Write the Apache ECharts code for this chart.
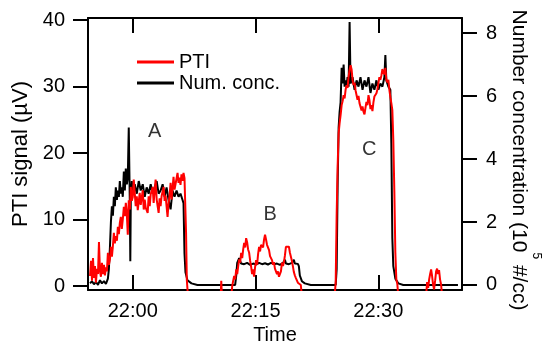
<!DOCTYPE html>
<html><head><meta charset="utf-8">
<script src="https://cdn.jsdelivr.net/npm/echarts@6/dist/echarts.min.js"></script>
<style>html,body{margin:0;padding:0;background:#fff}#c{width:550px;height:360px}</style>
</head><body><div id="c"></div>
<script>
// Time in minutes relative to 22:00
const ptiData = [
 [-5.22,1.5],[-5.10,3.8],[-4.98,0.8],[-4.86,4.2],[-4.74,1.2],[-4.62,3.0],[-4.50,0.5],[-4.37,2.6],[-4.25,1.8],[-4.13,6.6],
 [-4.01,2.2],[-3.89,1.4],[-3.77,3.5],[-3.65,1.8],[-3.52,3.2],[-3.40,1.6],[-3.28,2.8],[-3.16,2.2],[-3.04,5.0],[-2.92,3.2],
 [-2.79,4.0],[-2.67,5.9],[-2.55,4.4],[-2.43,6.0],[-2.31,8.0],[-2.19,6.4],[-2.07,7.5],[-1.94,6.8],[-1.82,8.9],[-1.70,7.8],
 [-1.58,9.5],[-1.46,10.4],[-1.34,8.6],[-1.22,10.0],[-1.09,11.9],[-0.97,10.5],[-0.85,12.5],[-0.73,11.0],[-0.61,7.7],[-0.49,12.9],
 [-0.36,11.5],[-0.24,14.9],[-0.12,12.8],[0,13.4],[0.12,16.0],[0.24,14.0],[0.36,12.0],[0.49,13.5],[0.61,11.4],[0.85,14.0],
 [0.97,12.2],[1.22,14.4],[1.34,11.5],[1.46,13.0],[1.58,11.8],[1.82,11.0],[1.94,13.5],[2.07,12.0],[2.19,13.8],[2.43,14.9],
 [2.55,12.5],[2.79,16.0],[2.92,13.0],[3.16,11.0],[3.28,13.2],[3.40,12.0],[3.52,13.5],[3.77,14.9],[3.89,12.8],[4.01,13.6],
 [4.25,10.4],[4.37,12.5],[4.50,13.6],[4.62,15.5],[4.74,13.0],[4.98,16.4],[5.10,14.5],[5.22,15.3],[5.47,17.0],[5.59,15.5],
 [5.71,16.3],[5.83,15.2],[5.95,16.8],[6.08,15.8],[6.20,17.0],[6.32,16.2],[6.44,16.5],[6.51,8.0],[6.60,1.0],[6.74,-1.5],
 [10.75,-1.5],[10.81,0.8],[10.89,-1.5],
 [12.03,-1.5],[12.15,0.0],[12.27,0.8],[12.39,1.5],[12.51,1.0],[12.64,2.5],[12.76,1.8],[12.88,3.0],[13.00,4.0],[13.12,3.5],
 [13.24,5.0],[13.37,4.2],[13.49,5.5],[13.61,6.5],[13.73,5.8],[13.85,7.2],[13.97,6.6],[14.09,5.5],[14.22,5.0],[14.34,3.8],
 [14.46,2.9],[14.58,1.8],[14.70,2.5],[14.82,1.4],[14.94,2.8],[15.07,3.9],[15.19,3.2],[15.31,4.8],[15.43,5.9],[15.55,5.2],
 [15.67,6.2],[15.80,6.5],[15.92,5.8],[16.04,7.0],[16.16,7.7],[16.28,7.0],[16.40,6.2],[16.52,6.0],[16.65,5.4],[16.77,4.5],
 [16.89,4.8],[17.01,3.9],[17.13,3.2],[17.25,3.6],[17.37,2.6],[17.50,2.4],[17.62,1.8],[17.74,2.2],[17.86,1.4],[17.98,1.2],
 [18.10,2.2],[18.23,3.5],[18.35,3.0],[18.47,3.6],[18.59,4.6],[18.71,5.9],[18.83,6.2],[18.95,5.6],[19.08,5.9],[19.20,5.0],
 [19.32,4.7],[19.44,3.8],[19.56,3.0],[19.68,2.1],[19.80,1.6],[19.93,1.2],[20.05,0.9],[20.17,0.5],[20.41,0.3],[20.53,0.15],[20.66,-1.5],
 [24.66,-1.5],[24.79,0.5],[24.91,10.7],[25.03,18.0],[25.15,23.0],[25.27,24.5],[25.39,25.7],[25.52,27.2],[25.64,27.8],[25.76,28.7],
 [25.88,28.2],[26.00,29.5],[26.12,30.2],[26.24,29.8],[26.37,31.5],[26.49,32.5],[26.61,33.2],[26.73,32.6],[26.85,31.0],[26.97,30.2],
 [27.10,30.6],[27.22,29.4],[27.34,29.2],[27.46,28.0],[27.58,28.6],[27.70,27.5],[27.82,27.2],[27.95,26.4],[28.07,27.0],[28.19,26.2],
 [28.31,25.8],[28.43,26.8],[28.55,27.7],[28.67,27.2],[28.80,28.7],[28.92,27.9],[29.04,26.6],[29.16,27.2],[29.28,26.3],[29.40,27.6],
 [29.52,28.5],[29.65,28.3],[29.77,29.0],[29.89,29.6],[30.01,30.5],[30.13,31.4],[30.25,31.0],[30.38,31.7],[30.50,32.6],[30.62,32.5],
 [30.74,31.8],[30.86,32.8],[30.98,31.0],[31.10,30.6],[31.23,31.0],[31.35,29.5],[31.47,28.4],[31.59,27.5],[31.71,26.5],[31.83,22.0],
 [31.96,14.0],[32.08,5.0],[32.20,1.0],[32.32,0.3],[32.44,-1.5],
 [35.84,-1.5],[35.96,0.6],[36.09,-0.3],[36.21,1.0],[36.33,1.8],[36.45,2.5],[36.57,1.5],[36.69,0.2],[36.81,-0.5],[36.94,0.8],
 [37.06,2.2],[37.18,2.6],[37.30,1.8],[37.42,2.4],[37.54,1.0],[37.67,0.2],[37.79,-1.5],[39.73,-1.5]
];
const concData = [
 [-5.22,0.05],[-4.98,0.12],[-4.74,0.02],[-4.50,0.10],[-4.25,0.0],[-4.01,0.15],[-3.77,0.05],[-3.52,0.12],[-3.28,0.03],[-3.04,0.2],
 [-2.92,0.5],[-2.79,1.2],[-2.67,2.0],[-2.55,2.5],[-2.43,2.2],[-2.31,2.8],[-2.19,2.5],[-2.07,3.1],[-1.94,2.7],[-1.82,3.0],
 [-1.70,2.8],[-1.58,3.3],[-1.46,2.9],[-1.34,3.1],[-1.22,2.8],[-1.09,3.6],[-0.97,3.0],[-0.85,3.7],[-0.73,3.2],[-0.61,3.4],
 [-0.49,5.0],[-0.36,2.6],[-0.30,0.75],[-0.24,2.8],[-0.12,3.3],[0,3.0],[0.24,3.2],[0.49,2.9],[0.73,3.3],[0.97,3.0],
 [1.22,3.2],[1.46,2.8],[1.70,3.1],[1.94,2.9],[2.19,3.2],[2.43,2.9],[2.67,3.1],[2.92,3.3],[3.16,2.9],[3.40,3.0],
 [3.65,3.2],[3.89,2.8],[4.13,3.1],[4.37,2.7],[4.62,2.4],[4.86,3.0],[5.10,2.8],[5.35,3.0],[5.59,2.8],[5.83,2.9],
 [6.08,2.7],[6.20,2.6],[6.32,1.0],[6.44,0.4],[6.68,0.15],[7.17,0.05],[7.90,0.0],
 [12.51,0.0],[12.64,0.3],[12.76,0.7],[12.88,0.75],[13.00,0.85],[13.24,0.68],[13.61,0.66],[13.97,0.7],[14.34,0.64],[14.70,0.68],
 [15.07,0.65],[15.43,0.7],[15.80,0.66],[16.16,0.69],[16.52,0.65],[16.89,0.7],[17.25,0.66],[17.62,0.68],[17.98,0.64],[18.35,0.7],
 [18.59,0.8],[18.71,0.68],[19.08,0.66],[19.44,0.7],[19.68,0.8],[19.80,0.68],[20.17,0.67],[20.29,0.6],[20.41,0.3],[20.66,0.12],
 [21.02,0.05],[21.75,0.0],
 [24.79,0.0],[24.91,0.5],[25.03,3.2],[25.15,5.0],[25.27,5.5],[25.39,5.8],[25.52,6.9],[25.64,6.4],[25.76,7.0],[25.88,6.3],
 [26.00,6.5],[26.12,6.3],[26.24,6.6],[26.37,6.3],[26.49,8.35],[26.61,6.4],[26.85,6.6],[27.10,6.2],[27.34,6.5],[27.58,6.3],
 [27.82,6.6],[28.07,6.2],[28.31,6.5],[28.55,6.3],[28.80,6.6],[29.04,6.1],[29.28,6.4],[29.52,6.2],[29.77,6.5],[30.01,6.2],
 [30.25,6.4],[30.50,6.3],[30.74,6.6],[30.86,7.3],[30.98,6.5],[31.23,6.3],[31.47,6.2],[31.59,4.5],[31.71,1.5],[31.83,0.6],
 [32.08,0.2],[32.44,0.05],[33.05,0.0],[39.73,0.0]
];
const xTickValues = [0, 15, 30];
const xTickLabels = ['22:00', '22:15', '22:30'];
const leftTickValues = [0, 10, 20, 30, 40];
const rightTickValues = [0, 2, 4, 6, 8];
const annotNames = ['A', 'B', 'C'];
const annotTime = [2.67, 16.8, 28.9];
const annotValue = [23.2, 10.7, 20.6];

const font = "'Liberation Sans', Arial, Helvetica, sans-serif";
const black = '#000';
const axLine = {show: true, onZero: false, lineStyle: {color: black, width: 2}};
const tickStyle = {color: black, width: 2};

const chart = echarts.init(document.getElementById('c'), null, {renderer: 'canvas'});
chart.setOption({
  animation: false,
  textStyle: {fontFamily: font},
  grid: {left: 88, right: 86, top: 18, bottom: 70},
  legend: {
    data: ['PTI', 'Num. conc.'], orient: 'vertical', left: 132, top: 47,
    itemWidth: 37, itemHeight: 3, itemGap: 1, icon: 'rect',
    textStyle: {fontSize: 20, color: black, fontFamily: font}
  },
  xAxis: [
    {type: 'value', min: -5.47, max: 40.22, position: 'bottom',
     name: 'Time', nameLocation: 'middle', nameGap: 33,
     nameTextStyle: {fontSize: 20, color: black, fontFamily: font},
     axisLine: axLine,
     axisTick: {show: true, inside: true, length: 15, customValues: xTickValues, lineStyle: tickStyle},
     axisLabel: {customValues: xTickValues, formatter: v => xTickLabels[xTickValues.indexOf(v)], fontSize: 20, color: black, margin: 11, fontFamily: font},
     splitLine: {show: false}},
    {type: 'value', min: -5.47, max: 40.22, position: 'top',
     axisLine: axLine,
     axisTick: {show: true, inside: true, length: 15, customValues: xTickValues, lineStyle: tickStyle},
     axisLabel: {show: false}, splitLine: {show: false}}
  ],
  yAxis: [
    {type: 'value', min: -0.6, max: 40.3, position: 'left',
     name: 'PTI signal (µV)', nameLocation: 'middle', nameGap: 56,
     nameTextStyle: {fontSize: 22, color: black, fontFamily: font},
     axisLine: axLine,
     axisTick: {show: true, inside: false, length: 15, customValues: leftTickValues, lineStyle: tickStyle},
     axisLabel: {customValues: leftTickValues, fontSize: 20, color: black, margin: 23, fontFamily: font},
     splitLine: {show: false}},
    {type: 'value', min: -0.16, max: 8.48, position: 'right',
     name: '{n|Number concentration (10}{s|5}{n| #/cc)}', nameLocation: 'middle', nameGap: 45, nameRotate: -90,
     nameTextStyle: {color: black, fontFamily: font, fontSize: 21, padding: [0, 0, 0, 12],
       rich: {n: {fontSize: 21, color: black, fontFamily: font, verticalAlign: 'bottom'},
              s: {fontSize: 12, color: black, fontFamily: font, verticalAlign: 'top', padding: [0, 0, 22, 0]}}},
     axisLine: axLine,
     axisTick: {show: true, inside: false, length: 15, customValues: rightTickValues, lineStyle: tickStyle},
     axisLabel: {customValues: rightTickValues, fontSize: 20, color: black, margin: 24, fontFamily: font},
     splitLine: {show: false}}
  ],
  series: [
    {name: 'Num. conc.', type: 'line', xAxisIndex: 0, yAxisIndex: 1, data: concData,
     showSymbol: false, symbol: 'none', color: '#000', lineStyle: {color: '#000', width: 2}},
    {name: 'PTI', type: 'line', xAxisIndex: 0, yAxisIndex: 0, data: ptiData,
     showSymbol: false, symbol: 'none', color: '#ff0000', lineStyle: {color: '#ff0000', width: 2}},
    {name: 'labels', type: 'scatter', xAxisIndex: 0, yAxisIndex: 0, symbolSize: 1,
     itemStyle: {color: 'rgba(0,0,0,0)'},
     data: annotNames.map((n, i) => ({name: n, value: [annotTime[i], annotValue[i]]})),
     label: {show: true, position: 'inside', formatter: p => p.name, fontSize: 20, color: black, fontFamily: font}}
  ]
});
</script>
</body></html>
